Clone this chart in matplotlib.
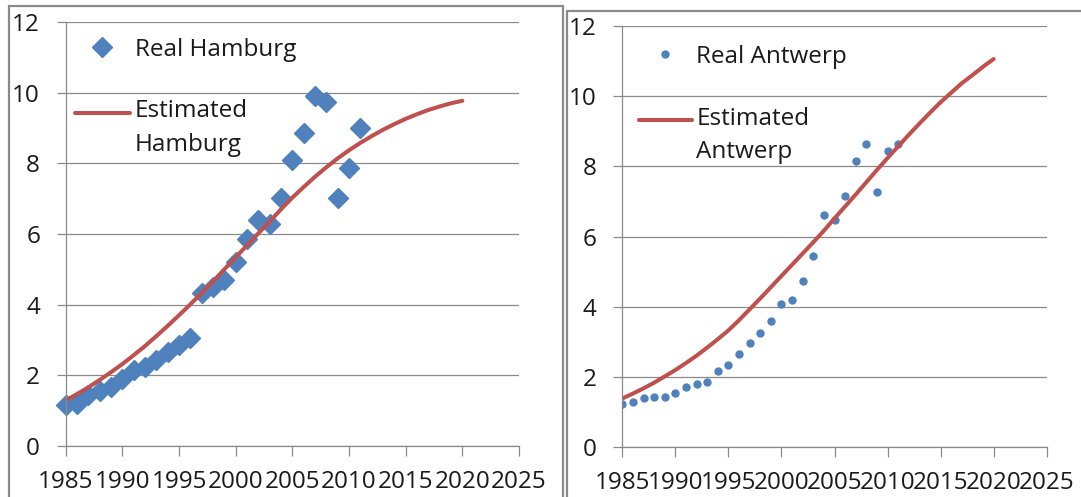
import matplotlib
matplotlib.use("Agg")
import matplotlib.pyplot as plt
import numpy as np
from matplotlib.patches import Rectangle
from matplotlib.legend_handler import HandlerLine2D

plt.rcParams['font.family'] = ['Open Sans', 'DejaVu Sans']

# real container volumes, one point per year
years_real = list(range(1985, 2012))
hamburg_real = [1.15, 1.20, 1.44, 1.55, 1.67, 1.90, 2.15, 2.24, 2.43, 2.67,
                2.85, 3.05, 4.34, 4.50, 4.70, 5.21, 5.87, 6.41, 6.27, 7.01,
                8.09, 8.87, 9.91, 9.75, 7.01, 7.87, 9.01]
antwerp_real = [1.22, 1.30, 1.41, 1.44, 1.44, 1.56, 1.73, 1.80, 1.85, 2.18,
                2.33, 2.66, 2.96, 3.25, 3.61, 4.08, 4.20, 4.75, 5.45, 6.62,
                6.48, 7.17, 8.16, 8.63, 7.27, 8.45, 8.64]

# estimated curves, one value per year
years_est = list(range(1985, 2021))
hamburg_est = [1.29, 1.47, 1.66, 1.87, 2.09, 2.32, 2.57, 2.83, 3.11, 3.40,
               3.70, 4.01, 4.33, 4.66, 5.00, 5.34, 5.68, 6.02, 6.35, 6.70,
               7.03, 7.33, 7.62, 7.89, 8.14, 8.37, 8.58, 8.77, 8.95, 9.11,
               9.26, 9.39, 9.51, 9.61, 9.70, 9.77]
antwerp_est = [1.39, 1.53, 1.68, 1.84, 2.02, 2.20, 2.40, 2.61, 2.84, 3.08,
               3.33, 3.62, 3.93, 4.24, 4.56, 4.88, 5.20, 5.52, 5.84, 6.17,
               6.52, 6.86, 7.20, 7.55, 7.90, 8.24, 8.57, 8.90, 9.22, 9.53,
               9.83, 10.10, 10.37, 10.60, 10.84, 11.06]

x_ticks = [1985, 1990, 1995, 2000, 2005, 2010, 2015, 2020, 2025]
y_ticks = [0, 2, 4, 6, 8, 10, 12]

blue = '#4F81BD'
red = '#C0504D'
grey = '#898989'
FS = 17.5


# legend line sits on the first line of a two-line label (like Excel)
class FirstLineHandler(HandlerLine2D):
    def __init__(self, shift, **kw):
        super().__init__(**kw)
        self.shift = shift

    def create_artists(self, legend, orig_handle, xdescent, ydescent,
                       width, height, fontsize, trans):
        arts = super().create_artists(legend, orig_handle, xdescent, ydescent,
                                      width, height, fontsize, trans)
        for a in arts:
            a.set_ydata(np.asarray(a.get_ydata()) + self.shift)
        return arts


W, H = 1081, 497
fig = plt.figure(figsize=(W / 100, H / 100), dpi=100)

# panel frames
fig.patches.append(Rectangle((8.5 / W, -0.05), (563 - 8.5) / W, 1.05 - 5.5 / H,
                             transform=fig.transFigure, fill=False,
                             edgecolor='#8a8a8a', linewidth=1.6))
fig.patches.append(Rectangle((567 / W, -0.05), 0.6, 1.05 - 10.5 / H,
                             transform=fig.transFigure, fill=False,
                             edgecolor='#8a8a8a', linewidth=1.6))

ax1 = fig.add_axes([65.7 / W, 1 - 446 / H, (519 - 65.7) / W, (446 - 22) / H])
ax2 = fig.add_axes([622.3 / W, 1 - 447.3 / H, (1046.7 - 622.3) / W, (447.3 - 26) / H])


def style(ax):
    ax.set_xlim(1985, 2025)
    ax.set_ylim(0, 12)
    ax.set_xticks(x_ticks)
    ax.set_yticks(y_ticks)
    ax.grid(True, axis='y', color=grey, linewidth=0.9)
    ax.set_axisbelow(True)
    for s in ['top', 'right']:
        ax.spines[s].set_visible(False)
    for s in ['left', 'bottom']:
        ax.spines[s].set_color(grey)
        ax.spines[s].set_linewidth(0.9)
    ax.tick_params(axis='x', direction='out', length=7, width=0.9, color=grey,
                   labelsize=FS, pad=10, labelcolor='#1a1a1a')
    ax.tick_params(axis='y', direction='out', length=6.5, width=0.9, color=grey,
                   labelsize=FS, pad=12, labelcolor='#1a1a1a')


style(ax1)
style(ax2)

ax1.plot(years_real, hamburg_real, linestyle='none', marker='D', markersize=10,
         color=blue, label='Real Hamburg', clip_on=False)
est_h, = ax1.plot(years_est, hamburg_est, color=red, linewidth=2.9,
                  label='Estimated\nHamburg', solid_capstyle='round')

ax2.plot(years_real, antwerp_real, linestyle='none', marker='o', markersize=5,
         color=blue, label='Real Antwerp')
est_a, = ax2.plot(years_est, antwerp_est, color=red, linewidth=2.9,
                  label='Estimated\nAntwerp', solid_capstyle='round')

legs = []
legs.append(ax1.legend(loc='upper left', bbox_to_anchor=(9.3 / 453.3, 0.963),
                       frameon=False, fontsize=FS, handlelength=2.25,
                       handletextpad=0.2, labelspacing=1.55, borderpad=0,
                       borderaxespad=0,
                       handler_map={est_h: FirstLineHandler(11.5)}))
legs.append(ax2.legend(loc='upper left', bbox_to_anchor=(17 / 424.4, 0.955),
                       frameon=False, fontsize=FS, handlelength=2.15,
                       handletextpad=0.2, labelspacing=1.55, borderpad=0,
                       borderaxespad=0,
                       handler_map={est_a: FirstLineHandler(11.5)}))
for leg in legs:
    for t in leg.get_texts():
        t.set_linespacing(1.52)
        t.set_color('#1a1a1a')

fig.savefig('out.png', dpi=100)
